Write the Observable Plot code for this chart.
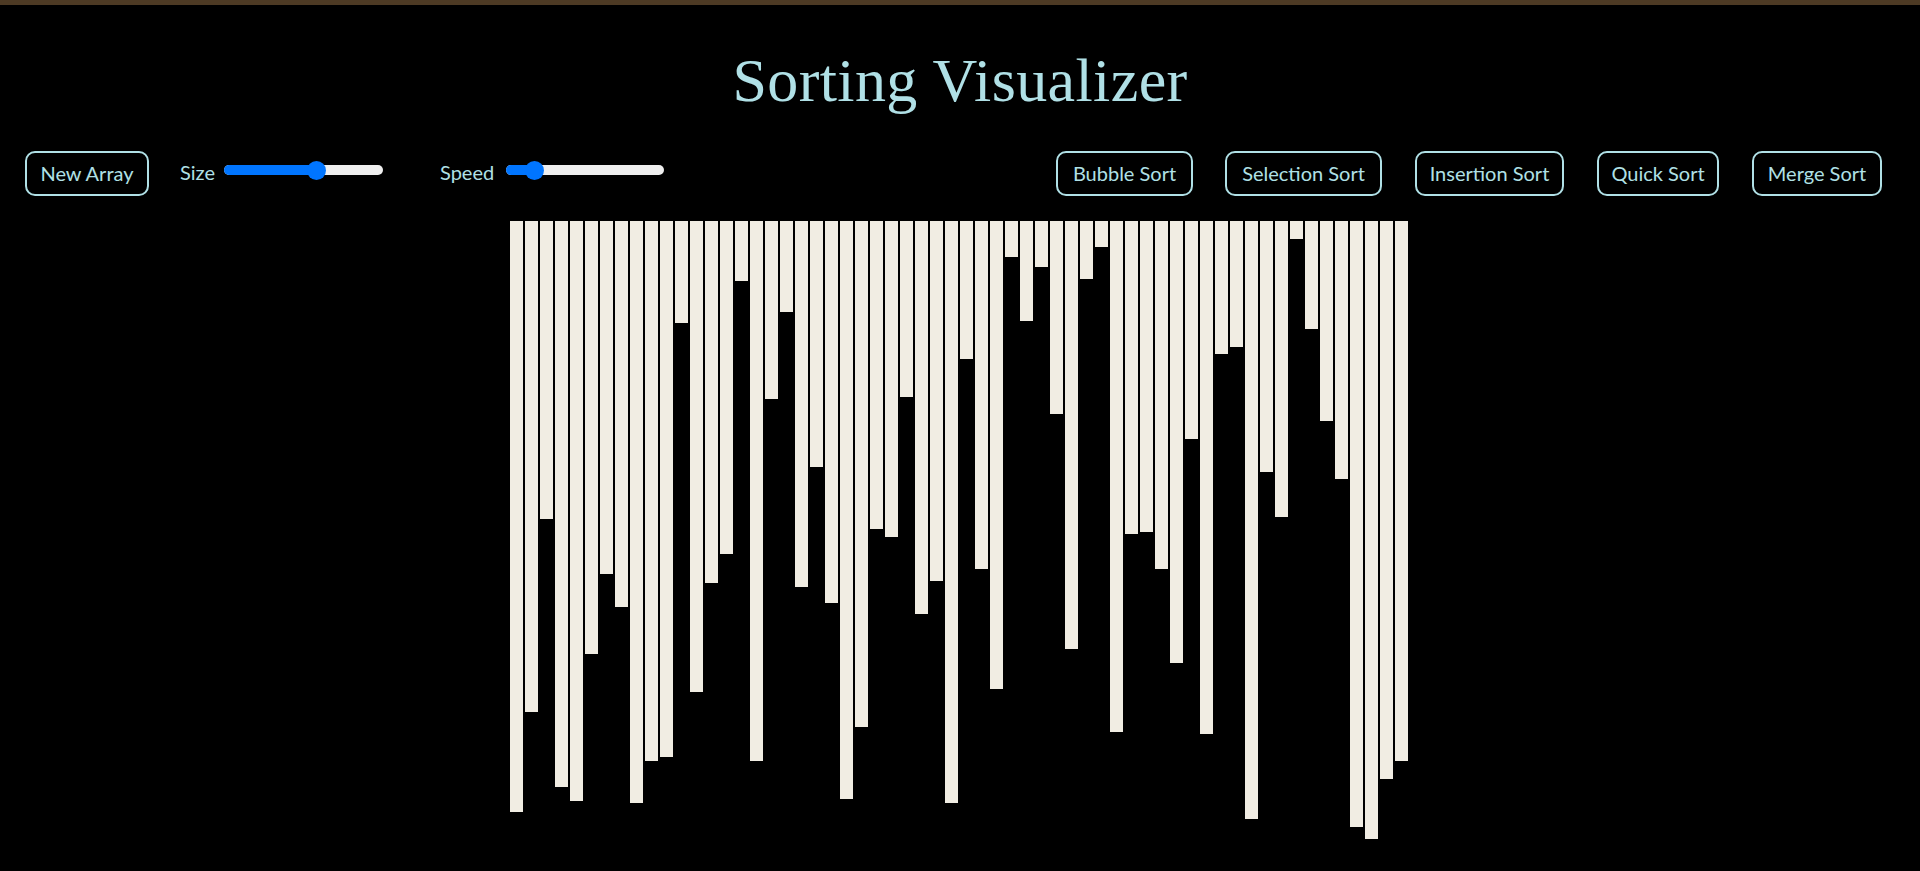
<!DOCTYPE html>
<html>
<head>
<meta charset="utf-8">
<script src="https://cdn.jsdelivr.net/npm/d3@7"></script>
<script src="https://cdn.jsdelivr.net/npm/@observablehq/plot@0.6"></script>
<style>
  html, body { margin: 0; padding: 0; background: #000; width: 1920px; height: 871px; overflow: hidden; }
  #strip { position: absolute; left: 0; top: 0; width: 1920px; height: 5px; background: #4d3a24; }
  #title { position: absolute; left: 0; top: 49px; width: 1920px; text-align: center;
           font-family: "Liberation Serif", serif; font-size: 62px; letter-spacing: 0.4px; line-height: 1; color: #b0e0e6; margin: 0; font-weight: normal; }
  .btn { position: absolute; top: 151px; height: 45px; box-sizing: border-box; border: 2px solid #b0e0e6;
         border-radius: 10px; color: #b0e0e6; font-family: Lato, sans-serif; font-size: 20px;
         display: flex; align-items: center; justify-content: center; padding-bottom: 2px; }
  .lbl { position: absolute; top: 162px; font-family: Lato, sans-serif; font-size: 20px; line-height: 20px; color: #b0e0e6; }
  .track { position: absolute; top: 165px; height: 10px; border-radius: 5px; background: #efefef; overflow: hidden; }
  .fill { position: absolute; left: 0; top: 0; height: 10px; background: #0075ff; }
  .thumb { position: absolute; width: 19px; height: 19px; border-radius: 50%; background: #0075ff; top: 160.5px; }
  #chart { position: absolute; left: 0; top: 221px; }
  #chart svg { max-width: none; }
</style>
</head>
<body>
<div id="strip"></div>
<h1 id="title">Sorting Visualizer</h1>
<div id="controls"></div>
<div id="chart"></div>
<script>
// ---- data ----
const barValues = [591, 491, 298, 566, 580, 433, 353, 386, 582, 540,
                   536, 102, 471, 362, 333, 60, 540, 178, 91, 366,
                   246, 382, 578, 506, 308, 316, 176, 393, 360, 582,
                   138, 348, 468, 36, 100, 46, 193, 428, 58, 26,
                   511, 313, 311, 348, 442, 218, 513, 133, 126, 598,
                   251, 296, 18, 108, 200, 258, 606, 618, 558, 540];
const leftButtons = ["New Array"];
const sortButtons = ["Bubble Sort", "Selection Sort", "Insertion Sort", "Quick Sort", "Merge Sort"];
const sliderLabels = ["Size", "Speed"];
const sliderValues = [0.59, 0.14];

// ---- layout (page chrome) ----
const controls = document.getElementById("controls");
const leftBtnBoxes = [[25, 124]];
const sortBtnBoxes = [[1056, 137], [1225, 157], [1415, 149], [1597, 122], [1752, 130]];
const labelLefts = [180, 440];
const trackBoxes = [[224, 159], [506, 158]];

function addButton(text, [left, w]) {
  const b = document.createElement("div");
  b.className = "btn";
  b.style.left = left + "px";
  b.style.width = w + "px";
  b.textContent = text;
  controls.appendChild(b);
}
leftButtons.forEach((t, i) => addButton(t, leftBtnBoxes[i]));
sortButtons.forEach((t, i) => addButton(t, sortBtnBoxes[i]));

sliderLabels.forEach((t, i) => {
  const l = document.createElement("div");
  l.className = "lbl";
  l.style.left = labelLefts[i] + "px";
  l.textContent = t;
  controls.appendChild(l);
  const [tl, tw] = trackBoxes[i];
  const track = document.createElement("div");
  track.className = "track";
  track.style.left = tl + "px";
  track.style.width = tw + "px";
  const fill = document.createElement("div");
  fill.className = "fill";
  const pos = 9 + sliderValues[i] * (tw - 18);
  fill.style.width = pos + "px";
  track.appendChild(fill);
  controls.appendChild(track);
  const th = document.createElement("div");
  th.className = "thumb";
  th.style.left = (tl + pos - 9.5) + "px";
  controls.appendChild(th);
});

// ---- chart ----
const indices = d3.range(barValues.length);
const rows = indices.map(i => ({i, v: barValues[i]}));
const H = 650;
const chart = Plot.plot({
  width: 1920,
  height: H,
  marginLeft: 509,
  marginRight: 511,
  marginTop: 0,
  marginBottom: 0,
  style: {background: "transparent"},
  x: {type: "band", domain: indices, padding: 0, axis: null},
  y: {domain: [0, H], range: [0, H], axis: null},
  marks: [
    Plot.barY(rows, {x: "i", y: "v", fill: "#f1ede3", insetLeft: 1, insetRight: 1})
  ]
});
document.getElementById("chart").appendChild(chart);
</script>
</body>
</html>
